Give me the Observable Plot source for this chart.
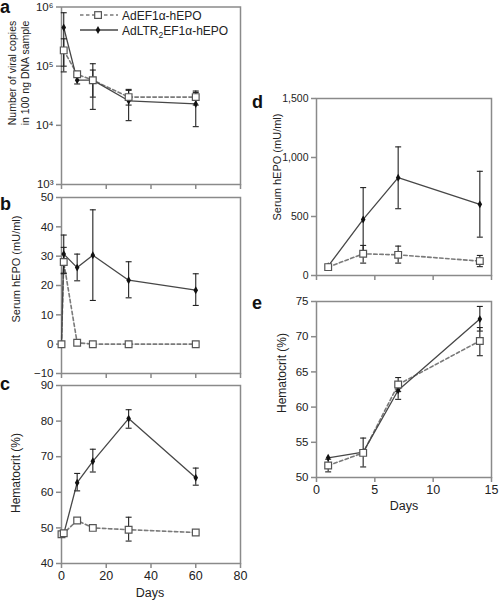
<!DOCTYPE html>
<html><head><meta charset="utf-8">
<script src="https://cdn.jsdelivr.net/npm/d3@7"></script>
<script src="https://cdn.jsdelivr.net/npm/@observablehq/plot@0.6"></script>
<style>
body{margin:0;background:#fff;}
#c{position:relative;width:499px;height:600px;overflow:hidden;background:#fff;font-family:"Liberation Sans",Arial,sans-serif;}
</style>
</head><body><div id="c"></div>
<script>
// ---------- data ----------
const seriesNames = ["AdEF1α-hEPO", "AdLTR₂EF1α-hEPO"];
// a: viral copies (log)
const daysA = [1, 7, 14, 30, 60];
const copiesEF = [1.85e5, 7.3e4, 5.8e4, 3.0e4, 3.0e4];
const copiesEFLo = [8e4, 6.5e4, 3.0e4, 2.2e4, 2.2e4];
const copiesEFHi = [2.9e5, 8.1e4, 8.6e4, 3.9e4, 3.8e4];
const copiesLTR = [4.5e5, 5.8e4, 5.8e4, 2.6e4, 2.3e4];
const copiesLTRLo = [1.0e5, 5.0e4, 1.86e4, 1.2e4, 9.5e3];
const copiesLTRHi = [8.0e5, 6.8e4, 1.1e5, 4.05e4, 3.6e4];
// b: serum hEPO
const daysB = [0, 1, 7, 14, 30, 60];
const hepoEF = [0, 28, 0.5, 0, 0, 0];
const hepoEFLo = [null, 24, null, null, null, null];
const hepoEFHi = [null, 33, null, null, null, null];
const hepoLTR = [0, 30.7, 26.1, 30.3, 21.8, 18.4];
const hepoLTRLo = [null, 24.2, 21.6, 14.9, 15.8, 13.2];
const hepoLTRHi = [null, 37.2, 30.7, 45.8, 28.1, 24.0];
// c: hematocrit
const daysC = [0, 1, 7, 14, 30, 60];
const hctEF = [48.2, 48.5, 52.1, 50.0, 49.5, 48.7];
const hctEFLo = [null, null, null, null, 46.3, null];
const hctEFHi = [null, null, null, null, 53.0, null];
const hctLTR = [48.2, 48.3, 62.7, 68.7, 80.7, 64.1];
const hctLTRLo = [null, null, 60.4, 65.7, 78.0, 62.0];
const hctLTRHi = [null, null, 65.3, 72.1, 83.2, 66.8];
// d: serum hEPO (short term)
const daysD = [1, 4, 7, 14];
const hepo2EF = [71, 184, 175, 122];
const hepo2EFLo = [55, 105, 105, 75];
const hepo2EFHi = [88, 255, 249, 170];
const hepo2LTR = [79, 475, 829, 603];
const hepo2LTRLo = [65, 205, 566, 325];
const hepo2LTRHi = [95, 745, 1090, 883];
// e: hematocrit (short term)
const daysE = [1, 4, 7, 14];
const hct2EF = [51.7, 53.5, 63.2, 69.4];
const hct2EFLo = [50.8, 51.5, 62.2, 67.3];
const hct2EFHi = [52.6, 55.6, 64.2, 71.3];
const hct2LTR = [52.8, 53.6, 62.4, 72.5];
const hct2LTRLo = [null, null, 61.1, 70.8];
const hct2LTRHi = [null, null, 63.5, 74.3];

// tick values
const xTicksLong = [0, 20, 40, 60, 80];
const xTicksShort = [0, 5, 10, 15];
const yTicksA = [1e3, 1e4, 1e5, 1e6];
const supDigits = {3: "³", 4: "⁴", 5: "⁵", 6: "⁶"};
const yTicksB = [-10, 0, 10, 20, 30, 40, 50];
const yTicksC = [40, 50, 60, 70, 80, 90];
const yTicksD = [0, 500, 1000, 1500];
const yTicksE = [50, 55, 60, 65, 70, 75];

// ---------- helpers ----------
const rows = (days, v, lo, hi) => days.map((d, i) => ({day: d, v: v[i], lo: lo[i], hi: hi[i]}));
const cap = {draw(ctx, size) { const r = Math.sqrt(size / Math.PI); ctx.moveTo(-r, 0); ctx.lineTo(r, 0); }};
const FONT = "'Liberation Sans', Arial, Helvetica, sans-serif";
const GRAY = "#8a8a8a";

function panel(o) {
  const errs = [...o.ef, ...o.ltr].filter(r => r.lo != null && r.hi != null);
  return Plot.plot({
    width: 499, height: 600,
    marginLeft: o.m[0], marginRight: 499 - o.m[1], marginTop: o.m[2], marginBottom: 600 - o.m[3],
    style: {position: "absolute", left: "0px", top: "0px", background: "transparent", overflow: "visible",
            fontFamily: FONT, fontSize: "12px", color: "#222", maxWidth: "none"},
    x: {domain: o.xDomain},
    y: {type: o.yType || "linear", domain: o.yDomain},
    marks: [
      Plot.frame({stroke: GRAY, strokeWidth: 1.5}),
      Plot.axisX({ticks: o.xTicks, tickFormat: o.xLabels ? (d => String(d)) : (() => ""), tickSize: 5, tickPadding: 3,
                  stroke: GRAY, strokeWidth: 1.5, fill: "#222", label: null, fontSize: 12.5}),
      Plot.axisY({ticks: o.yTicks, tickFormat: o.yFormat || (d => String(d).replace("-", "−")), tickSize: 5, tickPadding: 3,
                  stroke: GRAY, strokeWidth: 1.5, fill: "#222", label: null, fontSize: o.yFont || 11.5}),
      Plot.line(o.ef, {x: "day", y: "v", stroke: "#7a7a7a", strokeWidth: 1.6, strokeDasharray: "3.5,2.5"}),
      Plot.line(o.ltr, {x: "day", y: "v", stroke: "#474747", strokeWidth: 1.3}),
      Plot.ruleX(errs, {x: "day", y1: "lo", y2: "hi", stroke: "#222", strokeWidth: 1.1}),
      Plot.dot(errs, {x: "day", y: "lo", symbol: cap, r: 3, fill: "none", stroke: "#222", strokeWidth: 1.1}),
      Plot.dot(errs, {x: "day", y: "hi", symbol: cap, r: 3, fill: "none", stroke: "#222", strokeWidth: 1.1}),
      Plot.dot(o.ltr, {x: "day", y: "v", symbol: "diamond", r: 2.4, fill: "#111"}),
      Plot.dot(o.ef, {x: "day", y: "v", symbol: "square", r: 3.8, fill: "white", stroke: "#555", strokeWidth: 1.2})
    ]
  });
}

const c = document.getElementById("c");
c.append(panel({m: [61, 240, 6.5, 184], xDomain: [0, 80], xTicks: xTicksLong, xLabels: false,
  yType: "log", yDomain: [1e3, 1e6], yTicks: yTicksA, yFormat: d => "10" + supDigits[Math.round(Math.log10(d))], yFont: 11.5,
  ef: rows(daysA, copiesEF, copiesEFLo, copiesEFHi), ltr: rows(daysA, copiesLTR, copiesLTRLo, copiesLTRHi)}));
c.append(panel({m: [61, 240, 197, 373], xDomain: [0, 80], xTicks: xTicksLong, xLabels: false,
  yDomain: [-10, 50], yTicks: yTicksB,
  ef: rows(daysB, hepoEF, hepoEFLo, hepoEFHi), ltr: rows(daysB, hepoLTR, hepoLTRLo, hepoLTRHi)}));
c.append(panel({m: [61, 240, 385, 563], xDomain: [0, 80], xTicks: xTicksLong, xLabels: true,
  yDomain: [40, 90], yTicks: yTicksC,
  ef: rows(daysC, hctEF, hctEFLo, hctEFHi), ltr: rows(daysC, hctLTR, hctLTRLo, hctLTRHi)}));
c.append(panel({m: [316, 491, 98, 275], xDomain: [0, 15], xTicks: xTicksShort, xLabels: false,
  yDomain: [0, 1500], yTicks: yTicksD, yFormat: d3.format(","), yFont: 10.5,
  ef: rows(daysD, hepo2EF, hepo2EFLo, hepo2EFHi), ltr: rows(daysD, hepo2LTR, hepo2LTRLo, hepo2LTRHi)}));
c.append(panel({m: [316, 491, 301, 477], xDomain: [0, 15], xTicks: xTicksShort, xLabels: true,
  yDomain: [50, 75], yTicks: yTicksE,
  ef: rows(daysE, hct2EF, hct2EFLo, hct2EFHi), ltr: rows(daysE, hct2LTR, hct2LTRLo, hct2LTRHi)}));

// ---------- annotations: panel letters, axis titles, legend ----------
const ns = "http://www.w3.org/2000/svg";
const ov = document.createElementNS(ns, "svg");
ov.setAttribute("width", 499); ov.setAttribute("height", 600);
ov.setAttribute("style", "position:absolute;left:0;top:0;overflow:visible;font-family:" + FONT);
c.append(ov);
function txt(s, x, y, opts = {}) {
  const t = document.createElementNS(ns, "text");
  t.setAttribute("x", 0); t.setAttribute("y", 0);
  t.setAttribute("transform", `translate(${x},${y})` + (opts.rot ? " rotate(-90)" : ""));
  t.setAttribute("text-anchor", opts.anchor || "middle");
  if (opts.rot) t.setAttribute("dominant-baseline", "central");
  t.setAttribute("font-size", opts.size || 12);
  if (opts.bold) t.setAttribute("font-weight", "bold");
  t.setAttribute("fill", opts.fill || "#222");
  if (Array.isArray(s)) {
    for (const part of s) {
      const sp = document.createElementNS(ns, "tspan");
      sp.textContent = part.t;
      if (part.sub) { sp.setAttribute("font-size", 8.5); sp.setAttribute("dy", 3); }
      if (part.back) sp.setAttribute("dy", -3);
      t.append(sp);
    }
  } else t.textContent = s;
  ov.append(t);
  return t;
}
const panelLetters = ["a", "b", "c", "d", "e"];
const letterPos = [[0, 13], [0, 210], [0, 390], [252, 108], [252, 309]];
panelLetters.forEach((l, i) => txt(l, letterPos[i][0], letterPos[i][1], {anchor: "start", size: 18, bold: true, fill: "#111"}));

txt("Number of viral copies", 12, 73, {rot: true, size: 10.5});
txt("in 100 ng DNA sample", 25, 73, {rot: true, size: 10.5});
txt("Serum hEPO (mU/ml)", 16, 269, {rot: true, size: 11});
txt("Hematocrit (%)", 16, 473, {rot: true, size: 12});
txt("Serum hEPO (mU/ml)", 277, 167, {rot: true, size: 11});
txt("Hematocrit (%)", 282, 373, {rot: true, size: 12});
txt("Days", 150, 597, {size: 12.5});
txt("Days", 404, 510, {size: 12.5});

// legend
function line(x1, y1, x2, y2, stroke, w, dash) {
  const l = document.createElementNS(ns, "line");
  l.setAttribute("x1", x1); l.setAttribute("y1", y1); l.setAttribute("x2", x2); l.setAttribute("y2", y2);
  l.setAttribute("stroke", stroke); l.setAttribute("stroke-width", w);
  if (dash) l.setAttribute("stroke-dasharray", dash);
  ov.append(l);
}
line(80, 15, 118, 15, "#7a7a7a", 1.6, "3.5,2.5");
const sq = document.createElementNS(ns, "rect");
sq.setAttribute("x", 94.7); sq.setAttribute("y", 11.7); sq.setAttribute("width", 6.7); sq.setAttribute("height", 6.7);
sq.setAttribute("fill", "white"); sq.setAttribute("stroke", "#555"); sq.setAttribute("stroke-width", 1.2);
ov.append(sq);
txt(seriesNames[0], 122, 19.5, {anchor: "start", size: 12});
line(80, 30, 118, 30, "#474747", 1.3);
const dm = document.createElementNS(ns, "path");
dm.setAttribute("d", d3.symbol(d3.symbolDiamond, 2.4 * 2.4 * Math.PI)());
dm.setAttribute("transform", "translate(98,30)");
dm.setAttribute("fill", "#111");
ov.append(dm);
txt([{t: "AdLTR"}, {t: "2", sub: true}, {t: "EF1α-hEPO", back: true}], 122, 34.5, {anchor: "start", size: 12});
</script>
</body></html>
